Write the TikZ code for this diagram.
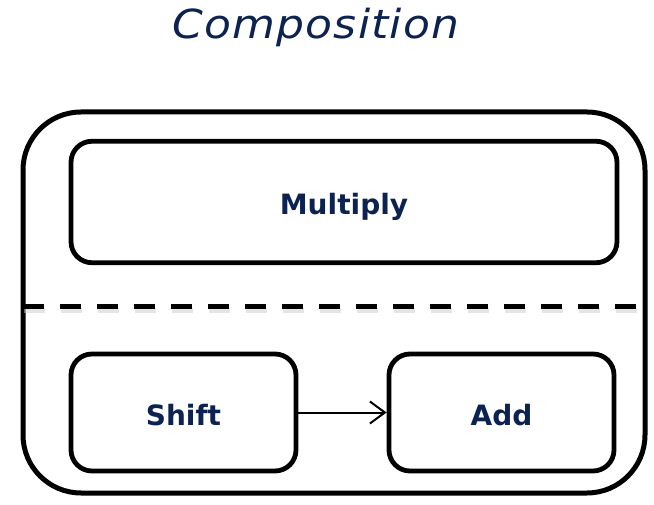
\documentclass[tikz,border=0pt]{standalone}
\usepackage{fontspec}
\setmainfont{DejaVu Sans}
\newfontfamily\titlefont[FakeStretch=1.1, LetterSpace=3]{DejaVu Sans}
\usetikzlibrary{arrows.meta}
\definecolor{navy}{RGB}{12,34,80}
\tikzset{
  x=1pt, y=-1pt,
  frame/.style={draw=black, line width=5pt, rounded corners=58pt,
    minimum width=622pt, minimum height=381pt, inner sep=0pt},
  stage/.style={draw=black, line width=4.8pt, rounded corners=21pt,
    inner sep=0pt, font=\fontsize{28}{32}\selectfont\bfseries, text=navy,
    text height=25.4pt, text depth=0pt},
  divider/.style={line width=5pt, dash pattern=on 21pt off 16pt},
  flow/.style={line width=2pt, -{Straight Barb[length=15pt,width=22pt]}},
}
\begin{document}
\begin{tikzpicture}
\useasboundingbox (0,0) rectangle (654,505);

% title
\node[anchor=base, text=navy, inner sep=0pt,
      font=\titlefont\itshape\fontsize{40}{44}\selectfont] (title) at (316,39) {Composition};

% enclosing frame
\node[frame] (comp) at (334,302.5) {};

% divider with soft shadow
\coordinate (dl) at (23,307);
\coordinate (dr) at (645,307);
\draw[divider, black!20, opacity=0.5] ([shift={(1,3.5)}]dl) -- ([shift={(1,3.5)}]dr);
\draw[divider, black] (dl) -- (dr);

% stages
\node[stage, minimum width=546pt, minimum height=121.5pt] (mul) at (344,202) {Multiply};
\node[stage, minimum width=225pt, minimum height=117pt] (shift) at (183.5,412.5) {Shift};
\node[stage, minimum width=225pt, minimum height=117pt] (add) at (501.5,412.5) {Add};

\draw[flow] (shift.east) -- (add.west);
\end{tikzpicture}
\end{document}
